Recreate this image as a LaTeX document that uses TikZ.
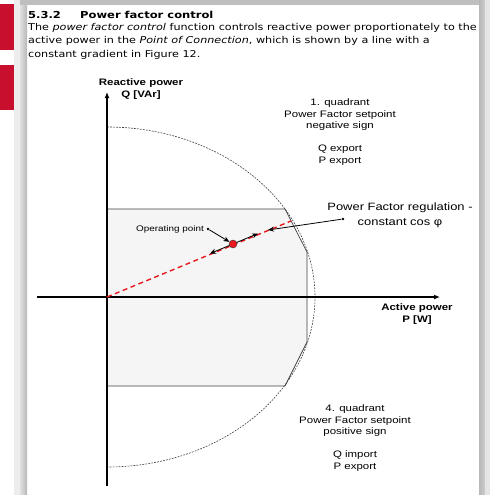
\documentclass[tikz,border=0pt]{standalone}
\usepackage{fontspec}
\setmainfont{DejaVu Sans}
\newfontfamily\verd[FakeStretch=1.19]{DejaVu Sans}
\newfontfamily\verdt[FakeStretch=1.2]{DejaVu Sans}
\newfontfamily\arl[FakeStretch=1.22]{Liberation Sans}
\usetikzlibrary{arrows.meta}
\definecolor{tabred}{HTML}{C8102E}
\definecolor{pfred}{HTML}{E8191E}
\tikzset{
  axis/.style={line width=1.4pt,-{Latex[length=6pt,width=5pt]}},
  capline/.style={draw=black!75,line width=0.6pt,dash pattern=on 1.8pt off 1.2pt},
  region/.style={draw=black!75,line width=0.7pt},
  pfline/.style={draw=pfred,line width=1.4pt,dash pattern=on 5pt off 3.5pt},
  ptr/.style={line width=0.8pt,-{Stealth[length=6pt,width=5pt]}},
  dotend/.style={circle,fill=black,inner sep=0pt,minimum size=2.8pt},
  qtxt/.style={font=\arl\fontsize{9.4}{11.8}\selectfont,align=center,inner sep=0pt},
  lbl/.style={font=\arl\bfseries\fontsize{9.4}{12.5}\selectfont,align=center,inner sep=0pt},
}
\begin{document}
\begin{tikzpicture}[x=1pt,y=-1pt]
\useasboundingbox (0,0) rectangle (490,495);
\fill[white] (0,0) rectangle (490,495);
% frame / page decoration
\fill[black!7] (14,0) rectangle (20,495);
\shade[left color=black!12,right color=black!28] (20,0) rectangle (27,495);
\fill[black!25] (20,0) rectangle (479,5);
\shade[left color=black!28,right color=black!20] (479,0) rectangle (485,495);
\fill[black!10] (485,0) rectangle (490,495);
\fill[tabred] (0,4) rectangle (14,50);
\fill[tabred] (0,65) rectangle (14,110);
% heading and text
\node[anchor=base west,inner sep=0pt,font=\verdt\bfseries\fontsize{9.6}{13}\selectfont] (num) at (28,18.5) {5.3.2};
\node[anchor=base west,inner sep=0pt,font=\verdt\bfseries\fontsize{9.6}{13}\selectfont] (title) at (80,18.5) {Power factor control};
\node[anchor=north west,inner sep=0pt,align=left,font=\verd\fontsize{9.4}{13.6}\selectfont] (body) at (28,23)
 {The \textit{power factor control} function controls reactive power proportionately to the\\
  active power in the \textit{Point of Connection}, which is shown by a line with a\\
  constant gradient in Figure 12.};
% diagram
\coordinate (O) at (107,297);
\fill[black!4] (107,209) -- (285,209) -- (307,252) -- (307,342) -- (285,386) -- (107,386) -- cycle;
\draw[region] (107,209) -- (285,209) -- (307,252) -- (307,342) -- (285,386) -- (107,386);
\draw[capline] (107,127) arc[start angle=90,end angle=-90,x radius=208pt,y radius=170pt];
\draw[axis] (107,486) coordinate (qbot) -- (107,92) coordinate (qtop);
\draw[axis] (37,297) coordinate (pleft) -- (440,297) coordinate (pright);
\coordinate (pfend) at (291,221);
\draw[pfline] (O) -- (pfend);
\coordinate (op) at (233,244);
\coordinate (opfwd) at (258,233.5);
\coordinate (opback) at (210,253.5);
\draw[ptr] (op) -- (opfwd);
\draw[ptr] (op) -- (opback);
\node[circle,fill=pfred,draw=black!80,line width=0.4pt,minimum size=8pt,inner sep=0pt] (opdot) at (op) {};
% labels
\node[lbl] (qlab) at (141,89) {Reactive power\\Q [VAr]};
\node[lbl] (plab) at (417,314) {Active power\\P [W]};
\node[qtxt] (q1) at (340,132) {1. quadrant\\Power Factor setpoint\\negative sign\\[11pt]Q export\\P export};
\node[qtxt] (q4) at (355,438) {4. quadrant\\Power Factor setpoint\\positive sign\\[11pt]Q import\\P export};
\node[inner sep=0pt,font=\arl\fontsize{8.1}{10}\selectfont] (oplab) at (170,229) {Operating point};
\node[dotend] (opd) at (208,229) {};
\draw[ptr] (opd) -- (opdot);
\node[inner sep=0pt,align=center,font=\arl\fontsize{10.6}{15}\selectfont] (pflab) at (400,215) {Power Factor regulation -\\constant cos φ};
\node[dotend] (pfd) at (343,219) {};
\coordinate (pftip) at (268,230);
\draw[ptr] (pfd) -- (pftip);
\end{tikzpicture}
\end{document}
